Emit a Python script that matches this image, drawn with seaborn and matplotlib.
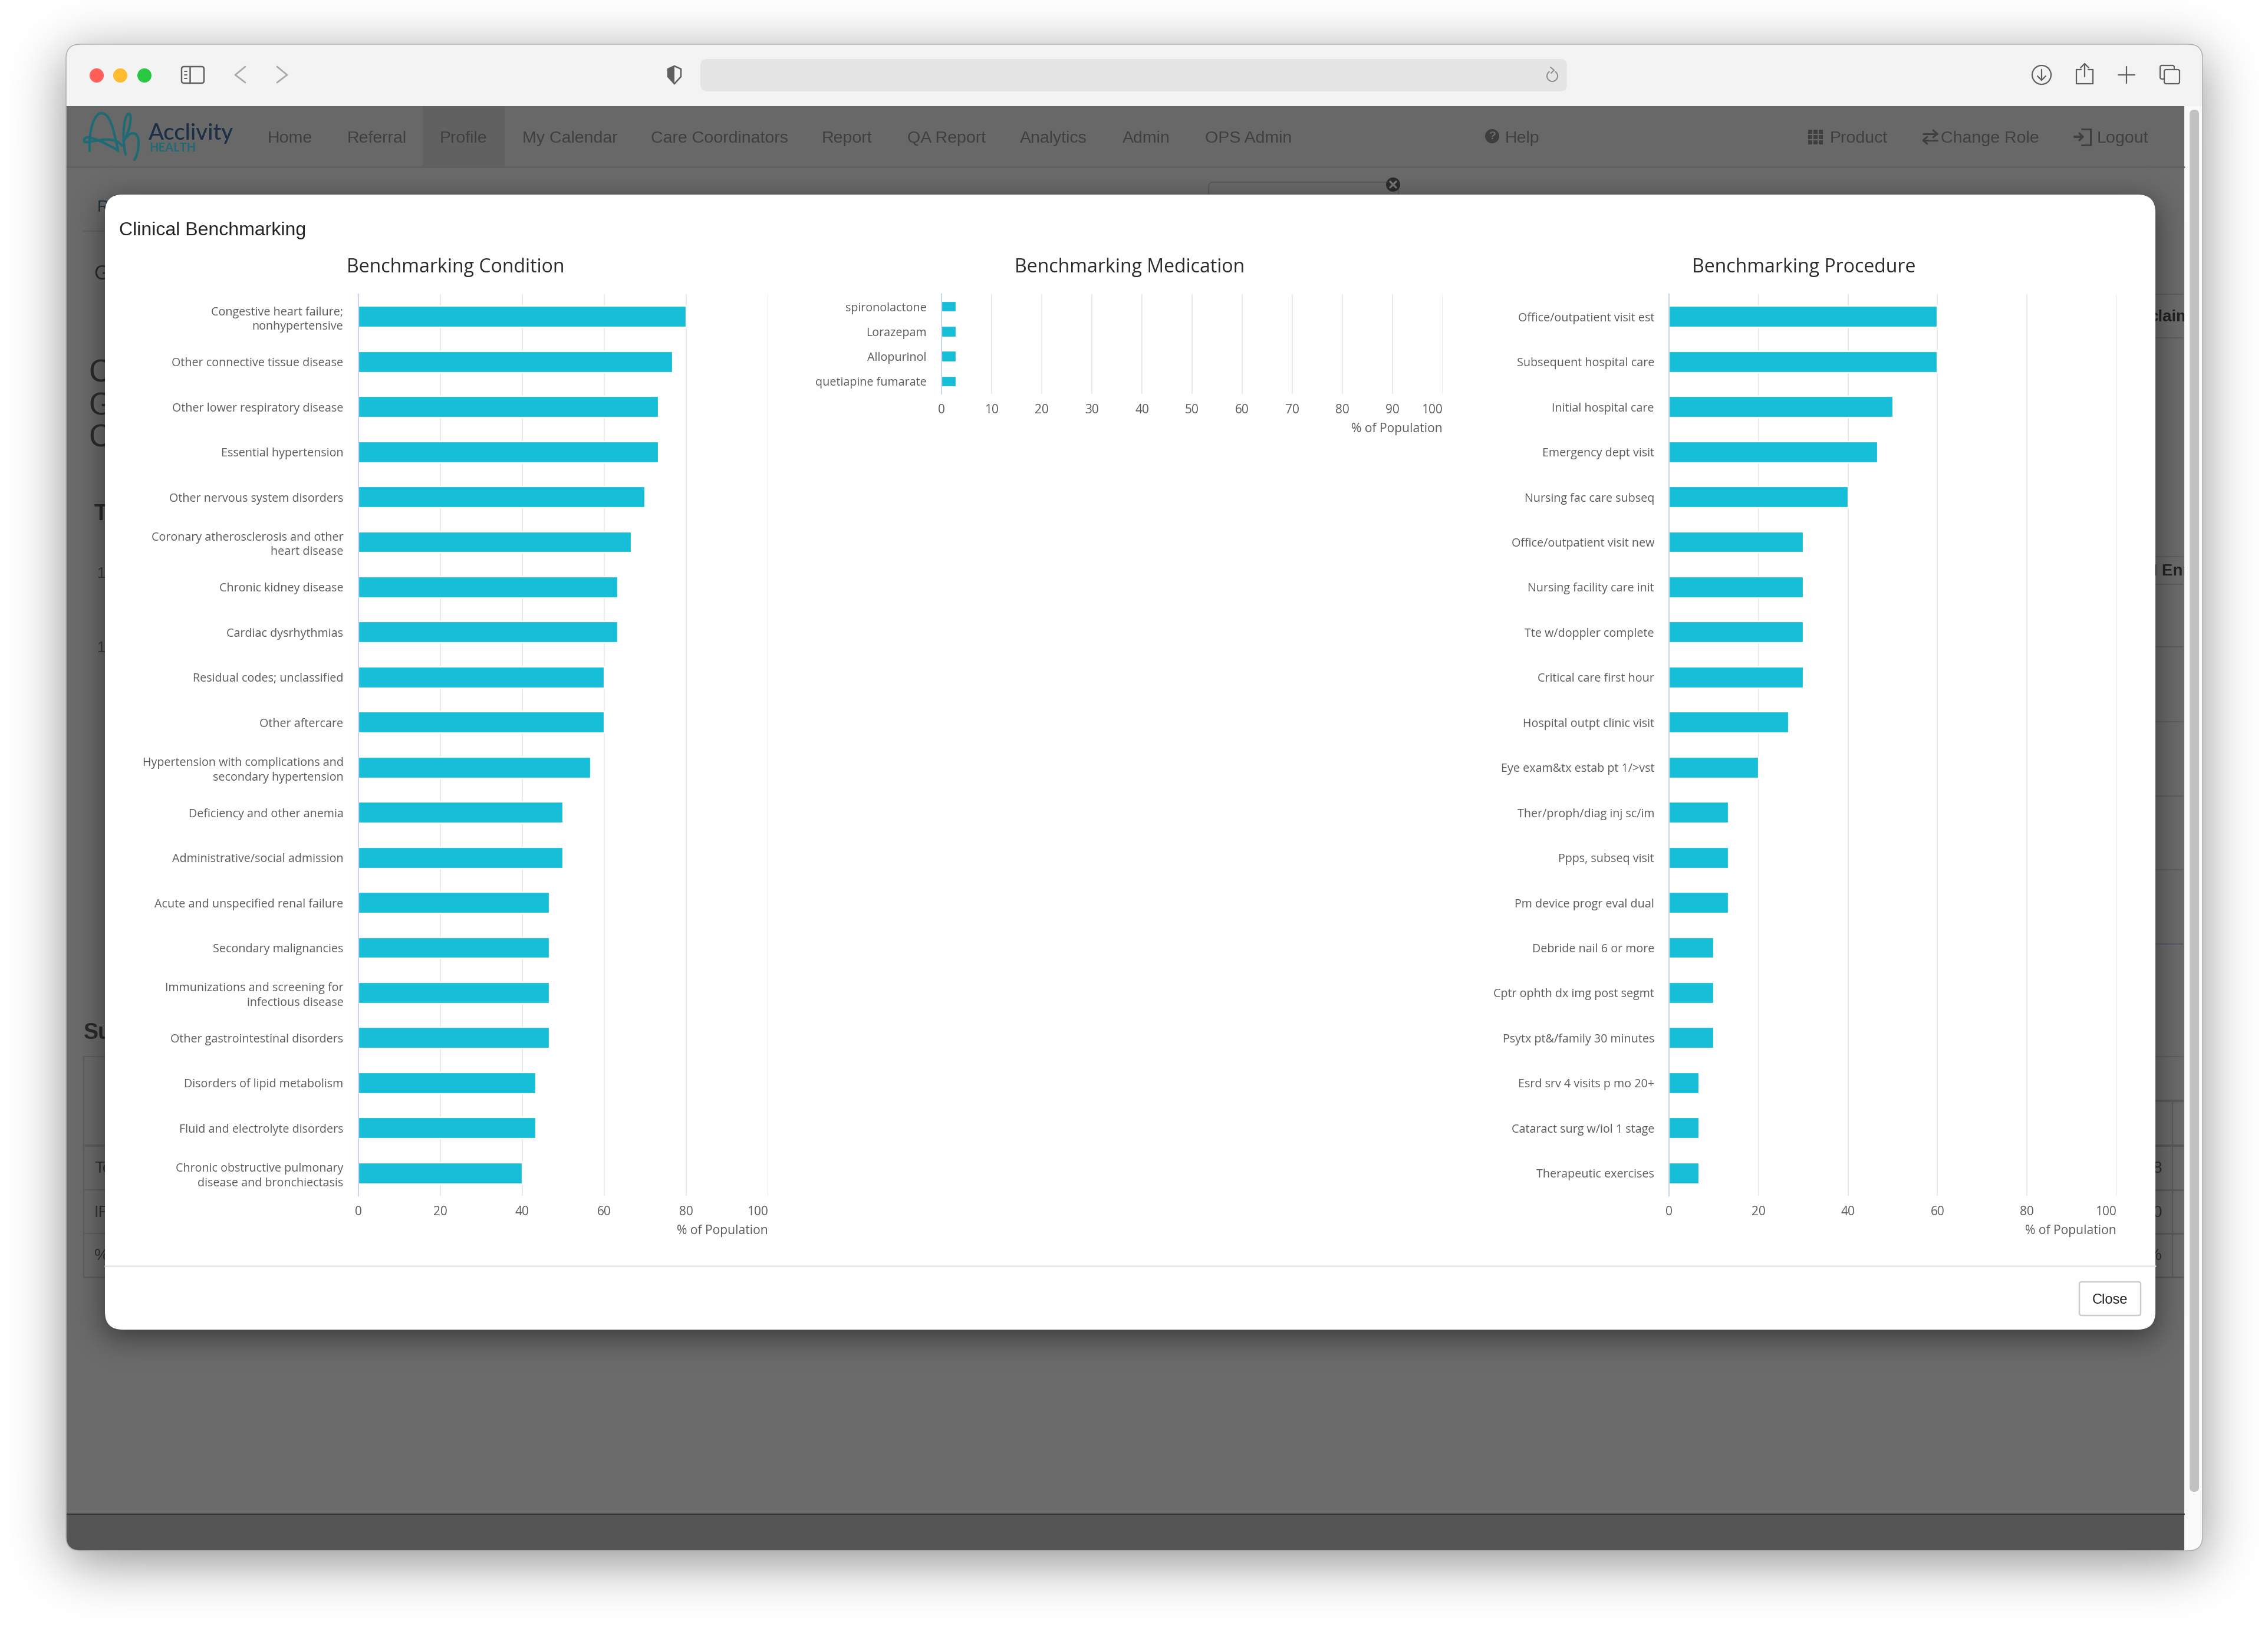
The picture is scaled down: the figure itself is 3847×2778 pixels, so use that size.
"""Clinical Benchmarking modal inside a browser window, three horizontal bar charts."""
import math

import numpy as np
import pandas as pd
import matplotlib
matplotlib.use("Agg")
import matplotlib.pyplot as plt
from matplotlib.patches import Rectangle, FancyBboxPatch, Circle, Arc
from matplotlib.path import Path
from matplotlib.patches import PathPatch
import seaborn as sns

W, H = 3848, 2778

condition_names = [
    "Congestive heart failure;\nnonhypertensive",
    "Other connective tissue disease",
    "Other lower respiratory disease",
    "Essential hypertension",
    "Other nervous system disorders",
    "Coronary atherosclerosis and other\nheart disease",
    "Chronic kidney disease",
    "Cardiac dysrhythmias",
    "Residual codes; unclassified",
    "Other aftercare",
    "Hypertension with complications and\nsecondary hypertension",
    "Deficiency and other anemia",
    "Administrative/social admission",
    "Acute and unspecified renal failure",
    "Secondary malignancies",
    "Immunizations and screening for\ninfectious disease",
    "Other gastrointestinal disorders",
    "Disorders of lipid metabolism",
    "Fluid and electrolyte disorders",
    "Chronic obstructive pulmonary\ndisease and bronchiectasis",
]
condition_pct = [80, 76.7, 73.3, 73.3, 70, 66.7, 63.3, 63.3, 60, 60,
                 56.7, 50, 50, 46.7, 46.7, 46.7, 46.7, 43.3, 43.3, 40]

medication_names = ["spironolactone", "Lorazepam", "Allopurinol", "quetiapine fumarate"]
medication_pct = [3, 3, 3, 3]

procedure_names = [
    "Office/outpatient visit est",
    "Subsequent hospital care",
    "Initial hospital care",
    "Emergency dept visit",
    "Nursing fac care subseq",
    "Office/outpatient visit new",
    "Nursing facility care init",
    "Tte w/doppler complete",
    "Critical care first hour",
    "Hospital outpt clinic visit",
    "Eye exam&tx estab pt 1/>vst",
    "Ther/proph/diag inj sc/im",
    "Ppps, subseq visit",
    "Pm device progr eval dual",
    "Debride nail 6 or more",
    "Cptr ophth dx img post segmt",
    "Psytx pt&/family 30 minutes",
    "Esrd srv 4 visits p mo 20+",
    "Cataract surg w/iol 1 stage",
    "Therapeutic exercises",
]
procedure_pct = [60, 60, 50, 46.7, 40, 30, 30, 30, 30, 26.7,
                 20, 13.3, 13.3, 13.3, 10, 10, 10, 6.7, 6.7, 6.7]

nav_left = ["Home", "Referral", "Profile", "My Calendar", "Care Coordinators",
            "Report", "QA Report", "Analytics", "Admin", "OPS Admin"]
nav_left_x = [454, 589, 746, 886, 1104, 1394, 1539, 1730, 1904, 2044]
nav_right = ["Help", "Product", "Change Role", "Logout"]
nav_right_x = [2553, 3104, 3292, 3557]

BAR = "#17bed8"
GRID = "#e6e6e6"
AXIS = "#ccd6eb"
PAGE = "#6b6b6b"
LABEL = "#5c5c5c"
HELV = ["Liberation Sans", "DejaVu Sans"]

sns.set_theme(style="whitegrid")
plt.rcParams["font.family"] = ["Open Sans", "DejaVu Sans"]

fig = plt.figure(figsize=(W / 100, H / 100), dpi=100, facecolor="white")
bg = fig.add_axes([0, 0, 1, 1], zorder=0)
bg.set_xlim(0, W)
bg.set_ylim(H, 0)
bg.axis("off")


def coverage(grid, a, b, sigma):
    erf = np.vectorize(math.erf)
    return 0.5 * (erf((grid - a) / (sigma * 2 ** 0.5)) - erf((grid - b) / (sigma * 2 ** 0.5)))


def rect(x0, y0, x1, y1, color, z=1, clip=None):
    p = Rectangle((x0, y0), x1 - x0, y1 - y0, facecolor=color, edgecolor="none", zorder=z)
    bg.add_patch(p)
    if clip is not None:
        p.set_clip_path(clip)
    return p


def round_box(x0, y0, x1, y1, r, fc="none", ec="none", lw=0, z=1):
    p = FancyBboxPatch((x0, y0), x1 - x0, y1 - y0, boxstyle=f"round,pad=0,rounding_size={r}",
                       facecolor=fc, edgecolor=ec, linewidth=lw, zorder=z)
    bg.add_patch(p)
    return p


def line(xs, ys, color, lw=2.0, z=2, clip=None):
    l, = bg.plot(xs, ys, color=color, lw=lw, zorder=z, solid_capstyle="round")
    if clip is not None:
        l.set_clip_path(clip)
    return l


# window shadow
gx = np.arange(0, W, 4) + 2.0
gy = np.arange(0, H, 4) + 2.0
shadow = 1 - 0.45 * np.outer(coverage(gy, 95, 2650, 45), coverage(gx, 112, 3736, 45))
bg.imshow(shadow, extent=(0, W, H, 0), cmap="gray", vmin=0, vmax=1, aspect="auto",
          interpolation="bilinear", zorder=0)
bg.set_xlim(0, W)
bg.set_ylim(H, 0)

window = round_box(112, 75, 3736, 2630, 24, fc="#fafafa", z=1)

# toolbar
rect(112, 75, 3736, 180, "#f3f3f3", 1.1, window)
round_box(1188, 100, 2658, 155, 12, fc="#e5e5e5", z=1.2)
for cx, col in zip([164, 204, 245], ["#ff5f57", "#febc2e", "#28c840"]):
    bg.add_patch(Circle((cx, 128), 12, facecolor=col, edgecolor="none", zorder=1.2))

ICON = "#5f5f5f"
round_box(308, 113, 346, 141, 4, ec=ICON, lw=1.8, z=1.2)
line([322, 322], [113, 141], ICON, 1.8)
for y in [121, 127, 133]:
    line([313, 317], [y, y], ICON, 1.4)
line([416, 399, 416], [113, 127, 140], "#a9a9a9", 2.0)
line([470, 487, 470], [113, 127, 140], "#a9a9a9", 2.0)
shield = [(1133, 117), (1144, 112), (1155, 117), (1155, 130), (1144, 142), (1133, 130), (1133, 117)]
bg.add_patch(plt.Polygon(shield, closed=True, facecolor="none", edgecolor=ICON, lw=1.8, zorder=1.2))
bg.add_patch(plt.Polygon(shield[:2] + [(1144, 142)] + shield[5:], closed=True,
                         facecolor=ICON, edgecolor="none", zorder=1.2))
bg.add_patch(Arc((2633, 129), 18, 18, theta1=-60, theta2=240, color="#8a8a8a", lw=1.4, zorder=1.3))
line([2630, 2636, 2631], [114, 119, 124], "#8a8a8a", 1.4, z=1.3)
bg.add_patch(Circle((3463, 127), 16, facecolor="none", edgecolor=ICON, lw=1.6, zorder=1.2))
line([3463, 3463], [118, 136], ICON, 1.6)
line([3456, 3463, 3470], [129, 136, 129], ICON, 1.6)
line([3522, 3522, 3550, 3550], [118, 142, 142, 118], ICON, 1.6)
line([3522, 3530], [118, 118], ICON, 1.6)
line([3542, 3550], [118, 118], ICON, 1.6)
line([3536, 3536], [108, 130], ICON, 1.6)
line([3529, 3536, 3543], [115, 108, 115], ICON, 1.6)
line([3593, 3621], [127, 127], ICON, 1.6)
line([3607, 3607], [113, 141], ICON, 1.6)
round_box(3664, 111, 3688, 134, 3, ec=ICON, lw=1.6, z=1.2)
round_box(3671, 118, 3697, 142, 3, fc="#f3f3f3", ec=ICON, lw=1.6, z=1.3)

# dimmed page
page = rect(112, 180, 3705, 2630, PAGE, 1.1, window)
page_clip = Rectangle((112, 180), 3593, 2450, transform=bg.transData)
rect(112, 180, 3705, 283, "#686868", 1.2, window)
rect(717, 180, 856, 283, "#616161", 1.25)
line([112, 3705], [283, 283], "#606060", 1.8, z=1.3)
rect(112, 2568, 3705, 2630, "#555555", 1.2, window)
line([112, 3705], [2568, 2568], "#333333", 1.6, z=1.3, clip=window)
round_box(3714, 186, 3730, 2530, 8, fc="#c1c1c1", z=1.2)

for label, x in zip(nav_left + nav_right, nav_left_x + nav_right_x):
    bg.text(x, 235, label, family=HELV, fontsize=20.5, color="#3f3f3f", ha="left", va="center", zorder=2)

# nav icons
bg.add_patch(Circle((2531, 231), 12, facecolor="#3d3d3d", edgecolor="none", zorder=2))
bg.text(2531, 232, "?", family=HELV, fontsize=14, fontweight="bold", color=PAGE, ha="center", va="center", zorder=2.1)
for dx in [-9, 0, 9]:
    for dy in [-9, 0, 9]:
        rect(3080 + dx - 3.5, 232 + dy - 3.5, 3080 + dx + 3.5, 232 + dy + 3.5, "#3f3f3f", 2)
line([3262, 3286], [227, 227], "#3f3f3f", 2.2)
line([3279, 3286, 3279], [221, 227, 233], "#3f3f3f", 2.2)
line([3262, 3286], [238, 238], "#3f3f3f", 2.2)
line([3269, 3262, 3269], [232, 238, 244], "#3f3f3f", 2.2)
line([3519, 3531], [232, 232], "#3f3f3f", 3.0)
line([3527, 3533, 3527], [226, 232, 238], "#3f3f3f", 2.4)
line([3531, 3546, 3546, 3531], [219, 219, 246, 246], "#3f3f3f", 2.2)

# logo
TEAL = "#1f6b75"
MOVE, C4 = Path.MOVETO, Path.CURVE4
logo_path = Path(
    [(152, 256), (150, 220), (160, 192), (172, 192), (186, 192), (192, 215), (200, 255),
     (148, 225), (141, 232), (143, 240), (146, 246), (190, 225), (207, 247)],
    [MOVE, C4, C4, C4, C4, C4, C4, C4, C4, C4, C4, C4, C4])
logo_h = Path(
    [(213, 262), (205, 225), (212, 192), (219, 193), (225, 195), (220, 225), (209, 240),
     (222, 218), (236, 225), (235, 242), (235, 255), (232, 265), (228, 271)],
    [MOVE, C4, C4, C4, C4, C4, C4, C4, C4, C4, C4, C4, C4])
for p in (logo_path, logo_h):
    bg.add_patch(PathPatch(p, facecolor="none", edgecolor=TEAL, lw=3.0, capstyle="round", zorder=2))
bg.text(252, 227, "Acclivity", family=["Lato", "DejaVu Sans"], fontsize=27.5, fontweight="medium",
        color="#1c2f45", ha="left", va="center", zorder=2)
bg.text(253, 251, "HEALTH", family=["Lato", "DejaVu Sans"], fontsize=14.5, fontweight="bold",
        color=TEAL, ha="left", va="center", zorder=2)

# page content peeking out around the modal
peek = [(165, 352, "R", 20, "#1f3040", "normal"), (159, 465, "G", 25, "#2a2a2a", "normal"),
        (150, 634, "C", 38, "#2a2a2a", "normal"), (150, 689, "G", 38, "#2a2a2a", "normal"),
        (150, 744, "C", 38, "#2a2a2a", "normal"), (160, 872, "T", 27, "#2a2a2a", "bold"),
        (164, 973, "1", 18, "#3a3a3a", "normal"), (164, 1099, "1", 18, "#3a3a3a", "normal"),
        (142, 1752, "Su", 27, "#2a2a2a", "bold"), (160, 1982, "To", 20, "#333333", "normal"),
        (160, 2057, "IP", 20, "#333333", "normal"), (160, 2130, "%", 20, "#333333", "normal"),
        (3646, 538, "claims", 20, "#222222", "bold"), (3636, 969, "M Enrollment", 20, "#222222", "bold")]
for x, y, s, size, col, weight in peek:
    t = bg.text(x, y, s, family=HELV, fontsize=size, color=col, fontweight=weight,
                ha="left", va="center", zorder=2)
    t.set_clip_path(page_clip)
    t.set_clip_on(True)
for y, s in zip([1982, 2057, 2130], ["8", "0", "%"]):
    bg.text(3667, y, s, family=HELV, fontsize=20, color="#333333", ha="right", va="center", zorder=2)
line([142, 178], [392, 392], "#606060", 1.5)
for y, lw in [(1792, 1.5), (1943, 3), (2018, 1.5), (2092, 1.5), (2166, 2)]:
    line([142, 178], [y, y], "#5e5e5e", lw)
line([142, 142], [1792, 2166], "#5e5e5e", 1.5)
for y in [499, 573, 944, 991, 1097, 1224, 1350, 1475, 1792]:
    line([3656, 3702], [y, y], "#5e5e5e", 1.5)
line([3656, 3702], [1601, 1601], "#565a66", 1.5)
for y, lw in [(1867, 3), (1943, 3), (2018, 2), (2092, 2), (2166, 2)]:
    line([3656, 3702], [y, y], "#5a5a5a", lw)
line([3685, 3685], [1867, 2166], "#5a5a5a", 1.5)
round_box(2050, 309, 2372, 360, 8, ec="#5c5c5c", lw=1.5, z=2)
bg.add_patch(Circle((2363, 313), 12, facecolor="#2d2d2d", edgecolor="none", zorder=2.1))
line([2358, 2368], [308, 318], "#777777", 2.4, z=2.2)
line([2358, 2368], [318, 308], "#777777", 2.4, z=2.2)

# modal shadow, clipped to the page
cov = np.outer(coverage(gy, 343, 2268, 25), coverage(gx, 178, 3656, 25))
rgba = np.zeros(cov.shape + (4,))
rgba[..., 3] = 0.5 * cov
im = bg.imshow(rgba, extent=(0, W, H, 0), aspect="auto", interpolation="bilinear", zorder=3)
im.set_clip_path(page_clip)
bg.set_xlim(0, W)
bg.set_ylim(H, 0)

# modal
round_box(178, 330, 3656, 2255, 30, fc="white", z=4)
bg.text(202, 391, "Clinical Benchmarking", family=HELV, fontsize=23, color="#222222",
        ha="left", va="center", zorder=5)
line([178, 3656], [2147, 2147], "#e5e5e5", 1.8, z=5)
round_box(3527, 2174, 3631, 2231, 4, fc="white", ec="#cccccc", lw=1.8, z=5)
bg.text(3579, 2205, "Close", family=HELV, fontsize=17, color="#222222", ha="center", va="center", zorder=5.1)
round_box(112, 75, 3736, 2630, 24, ec="#b4b4b4", lw=1.2, z=6)


def bar_panel(names, values, title, x0, x1, top, bottom, title_x, ticks, thickness):
    ax = fig.add_axes([x0 / W, 1 - bottom / H, (x1 - x0) / W, (bottom - top) / H], zorder=2)
    ax.patch.set_alpha(0)
    df = pd.DataFrame({"name": names, "pct": values})
    sns.barplot(data=df, x="pct", y="name", orient="h", color=BAR, saturation=1, width=thickness,
                edgecolor="white", linewidth=1.6, ax=ax)
    ax.set_xlim(0, 100)
    ax.set_ylim(len(names) - 0.5, -0.5)
    ax.set_axisbelow(True)
    ax.grid(axis="x", color=GRID, lw=1.2)
    ax.grid(axis="y", visible=False)
    ax.set_xticks(ticks)
    ax.set_xticklabels([str(t) for t in ticks])
    ax.get_xticklabels()[-1].set_ha("right")
    ax.tick_params(axis="x", length=0, pad=12.5, labelsize=15, labelcolor=LABEL)
    ax.tick_params(axis="y", length=0, pad=18, labelsize=14.2, labelcolor=LABEL)
    for lab in ax.get_yticklabels():
        lab.set_multialignment("right")
        lab.set_linespacing(1.3)
    for side in ("top", "right", "bottom"):
        ax.spines[side].set_visible(False)
    ax.spines["left"].set_color(AXIS)
    ax.spines["left"].set_linewidth(1.5)
    ax.set_ylabel("")
    ax.set_xlabel("% of Population", loc="right", fontsize=15.2, color=LABEL, labelpad=7.5)
    ax.set_title(title, x=(title_x - x0) / (x1 - x0), pad=27, fontsize=23, color="#2b2b2b")
    return ax


bar_panel(condition_names, condition_pct, "Benchmarking Condition",
          607.5, 1303, 499, 2028, 773, [0, 20, 40, 60, 80, 100], 0.47)
bar_panel(medication_names, medication_pct, "Benchmarking Medication",
          1597, 2447, 499, 668, 1916, list(range(0, 101, 10)), 0.44)
bar_panel(procedure_names, procedure_pct, "Benchmarking Procedure",
          2831, 3590, 499, 2028, 3060, [0, 20, 40, 60, 80, 100], 0.47)

fig.savefig("out.png", dpi=100, facecolor="white")
